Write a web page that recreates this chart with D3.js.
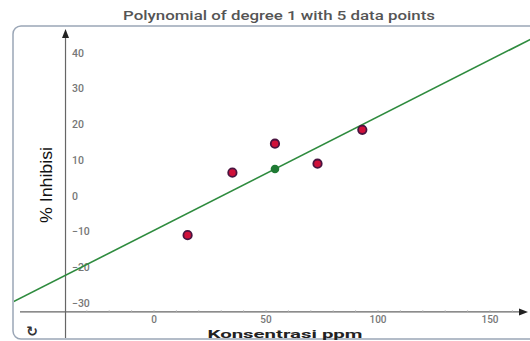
<!DOCTYPE html>
<html>
<head>
<meta charset="utf-8">
<script src="https://cdn.jsdelivr.net/npm/d3@7"></script>
<style>
  html, body { margin: 0; padding: 0; background: #fff; }
  svg { display: block; }
</style>
</head>
<body>
<script>
// data
const konsentrasi = [15, 35, 54, 73, 93];
const inhibisi = [-11, 6.5, 14.6, 9, 18.5];
const xTicks = [0, 50, 100, 150];
const yTicks = [-30, -20, -10, 0, 10, 20, 30, 40];
const xMinor = d3.range(-30, 171, 10);
// where the (shifted) axis lines cross, in data units
const yAxisAtX = -39.5;
const xAxisAtY = -32.5;

const WIDTH = 530, HEIGHT = 341;

const x = d3.scaleLinear().domain([0, 150]).range([154, 490]);
const y = d3.scaleLinear().domain([-30, 40]).range([303, 53]);

const svg = d3.select('body').append('svg')
  .attr('width', WIDTH).attr('height', HEIGHT);

// title
svg.append('text')
  .attr('x', 279).attr('y', 20)
  .attr('text-anchor', 'middle')
  .attr('font-family', 'Roboto, sans-serif')
  .attr('font-size', 12.5)
  .attr('font-weight', 500)
  .attr('fill', '#555')
  .attr('textLength', 312)
  .attr('lengthAdjust', 'spacingAndGlyphs')
  .text('Polynomial of degree 1 with 5 data points');

// frame
svg.append('rect')
  .attr('x', 13).attr('y', 26)
  .attr('width', 540).attr('height', 313)
  .attr('rx', 8)
  .attr('fill', '#fff')
  .attr('stroke', '#9aa6b6')
  .attr('stroke-width', 1.5);

svg.append('clipPath').attr('id', 'frame-clip')
  .append('rect')
  .attr('x', 14).attr('y', 27)
  .attr('width', 540).attr('height', 311);

const plot = svg.append('g').attr('clip-path', 'url(#frame-clip)');

const axisColor = '#666';
const x0 = x(yAxisAtX), y0 = y(xAxisAtY);

// x axis line with arrow
plot.append('line')
  .attr('x1', 20).attr('x2', 520)
  .attr('y1', y0).attr('y2', y0)
  .attr('stroke', axisColor).attr('stroke-width', 1.2);
plot.append('path')
  .attr('d', `M528,${y0} L519,${y0 - 3.5} L519,${y0 + 3.5} Z`)
  .attr('fill', '#222');

plot.selectAll('.minor')
  .data(xMinor)
  .join('line')
  .attr('class', 'minor')
  .attr('x1', (d) => x(d)).attr('x2', (d) => x(d))
  .attr('y1', y0 - 1.5).attr('y2', y0)
  .attr('stroke', '#aaa');

// y axis line with arrow
plot.append('line')
  .attr('x1', x0).attr('x2', x0)
  .attr('y1', 38).attr('y2', HEIGHT)
  .attr('stroke', axisColor).attr('stroke-width', 1.2);
plot.append('path')
  .attr('d', `M${x0},29 L${x0 - 3.5},38 L${x0 + 3.5},38 Z`)
  .attr('fill', '#222');

// tick labels
const tickFont = 'Roboto, sans-serif';
plot.selectAll('.ytick')
  .data(yTicks)
  .join('text')
  .attr('class', 'ytick')
  .attr('x', 72)
  .attr('y', (d) => y(d))
  .attr('dy', '0.35em')
  .attr('font-family', tickFont)
  .attr('font-size', 10.5)
  .attr('font-weight', 500)
  .attr('fill', '#777')
  .text((d) => (d < 0 ? '\u2212' + Math.abs(d) : d));

plot.selectAll('.xtick')
  .data(xTicks)
  .join('text')
  .attr('class', 'xtick')
  .attr('x', (d) => x(d))
  .attr('y', y0 + 8)
  .attr('dy', '0.35em')
  .attr('text-anchor', 'middle')
  .attr('font-family', tickFont)
  .attr('font-size', 10)
  .attr('font-weight', 500)
  .attr('fill', '#777')
  .text((d) => d);

// regression line through the points
const mx = d3.mean(konsentrasi), my = d3.mean(inhibisi);
const sxy = d3.sum(konsentrasi, (d, i) => (d - mx) * (inhibisi[i] - my));
const sxx = d3.sum(konsentrasi, (d) => (d - mx) * (d - mx));
const slope = sxy / sxx, icpt = my - slope * mx;
const fitX = [-70, 190];

plot.append('path')
  .attr('d', d3.line().x((d) => x(d)).y((d) => y(slope * d + icpt))(fitX))
  .attr('fill', 'none')
  .attr('stroke', '#2e8b3e')
  .attr('stroke-width', 1.6);

// data points
plot.selectAll('.pt')
  .data(konsentrasi)
  .join('circle')
  .attr('class', 'pt')
  .attr('cx', (d) => x(d))
  .attr('cy', (d, i) => y(inhibisi[i]))
  .attr('r', 4.2)
  .attr('fill', '#d0103a')
  .attr('stroke', '#4a1440')
  .attr('stroke-width', 1.8);

// centroid
plot.append('circle')
  .attr('cx', x(mx)).attr('cy', y(my))
  .attr('r', 4.3)
  .attr('fill', '#1f7a34');

// axis titles
svg.append('text')
  .attr('transform', `translate(52, 185) rotate(-90)`)
  .attr('text-anchor', 'middle')
  .attr('font-family', '"Liberation Sans Narrow", "Liberation Sans", sans-serif')
  .attr('font-size', 17)
  .attr('fill', '#111')
  .attr('textLength', 76)
  .attr('lengthAdjust', 'spacingAndGlyphs')
  .text('% Inhibisi');

svg.append('text')
  .attr('x', 285).attr('y', 338)
  .attr('text-anchor', 'middle')
  .attr('font-family', 'Roboto, sans-serif')
  .attr('font-size', 11.5)
  .attr('font-weight', 700)
  .attr('fill', '#222')
  .attr('textLength', 155)
  .attr('lengthAdjust', 'spacingAndGlyphs')
  .text('Konsentrasi ppm');

// reset icon
svg.append('text')
  .attr('x', 32).attr('y', 336)
  .attr('text-anchor', 'middle')
  .attr('font-family', 'DejaVu Sans, sans-serif')
  .attr('font-size', 14)
  .attr('font-weight', 700)
  .attr('fill', '#333')
  .text('\u21bb');
</script>
</body>
</html>
